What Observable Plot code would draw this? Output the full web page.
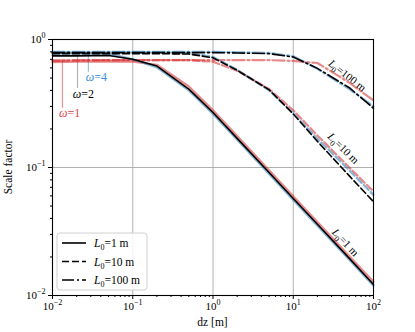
<!DOCTYPE html>
<html><head><meta charset="utf-8">
<script src="https://cdn.jsdelivr.net/npm/d3@7"></script>
<script src="https://cdn.jsdelivr.net/npm/@observablehq/plot@0.6"></script>
<style>body{margin:0;background:#fff} svg{font-family:"Liberation Serif",serif}</style>
</head><body><div id="chart"></div>
<script>
// ---- data ----
const dz = [0.01,0.02,0.05,0.1,0.2,0.5,1,2,5,10,20,50,100];
// omega = 1 (red)
const w1_L1   = [0.665,0.67,0.675,0.67,0.635,0.43,0.28,0.176,0.095,0.0595,0.0375,0.0203,0.0128];
const w1_L10  = [0.685,0.685,0.69,0.69,0.69,0.69,0.67,0.57,0.41,0.28,0.178,0.1,0.065];
const w1_L100 = [0.685,0.69,0.69,0.69,0.69,0.69,0.69,0.69,0.69,0.68,0.655,0.46,0.334];
// omega = 2 (black)
const w2_L1   = [0.745,0.745,0.75,0.70,0.62,0.41,0.269,0.169,0.0915,0.0573,0.036,0.0195,0.0122];
const w2_L10  = [0.775,0.775,0.775,0.775,0.775,0.77,0.72,0.575,0.405,0.262,0.16,0.086,0.054];
const w2_L100 = [0.79,0.79,0.79,0.79,0.79,0.79,0.79,0.785,0.775,0.73,0.595,0.42,0.29];
// omega = 4 (blue)
const w4_L1   = [0.78,0.78,0.775,0.70,0.605,0.40,0.262,0.165,0.089,0.0558,0.035,0.019,0.0119];
const w4_L10  = [0.79,0.79,0.79,0.79,0.79,0.785,0.73,0.58,0.40,0.265,0.168,0.095,0.061];
const w4_L100 = [0.80,0.80,0.80,0.80,0.80,0.80,0.80,0.795,0.785,0.74,0.59,0.41,0.30];

const majorX = [0.01,0.1,1,10,100];
const majorY = [0.01,0.1,1];
const legendLabels = ["L_0=1 m","L_0=10 m","L_0=100 m"];

// annotation anchors (data coordinates)
const curveLabels = [
  {x: 47, y: 0.523, text: "L_0=100 m", angle: 38},
  {x: 42, y: 0.141, text: "L_0=10 m", angle: 45},
  {x: 44.6, y: 0.026, text: "L_0=1 m", angle: 47}
];
const omegaLabels = [
  {x: 0.0353, y: 0.505, text: "ω=4", color: "#3d8fd0", lx: 0.028, y1: 0.78, y2: 0.555, lc: "rgba(31,119,180,0.45)"},
  {x: 0.0243, y: 0.372, text: "ω=2", color: "#000", lx: 0.0205, y1: 0.745, y2: 0.415, lc: "rgba(0,0,0,0.3)"},
  {x: 0.0163, y: 0.264, text: "ω=1", color: "#e0444a", lx: 0.0133, y1: 0.67, y2: 0.29, lc: "rgba(214,39,40,0.5)"}
];

const series = [
  {omega:1, L0:1, v:w1_L1}, {omega:1, L0:10, v:w1_L10}, {omega:1, L0:100, v:w1_L100},
  {omega:4, L0:1, v:w4_L1}, {omega:4, L0:10, v:w4_L10}, {omega:4, L0:100, v:w4_L100},
  {omega:2, L0:1, v:w2_L1}, {omega:2, L0:10, v:w2_L10}, {omega:2, L0:100, v:w2_L100}
];

const colors = {1: "#d62728", 2: "#000000", 4: "#1f77b4"};
const dashes = {1: null, 10: "7,3", 100: "12,3,2,3"};

const W = 415, H = 332, mL = 52, mR = 42, mT = 39, mB = 37;

const lineMarks = series.map(s => {
  const rows = dz.map((d, i) => ({dz: d, val: s.v[i]}));
  const opts = {x: "dz", y: "val", stroke: colors[s.omega],
    strokeWidth: s.omega === 2 ? 1.6 : 2.2,
    strokeOpacity: s.omega === 2 ? 1 : 0.55};
  if (dashes[s.L0]) opts.strokeDasharray = dashes[s.L0];
  return Plot.line(rows, opts);
});

const minor = (lo, hi) => d3.range(lo, hi).flatMap(e => d3.range(2, 10).map(m => m * 10 ** e));

const fmt = v => "10^" + Math.round(Math.log10(v));

const svg = Plot.plot({
  width: W, height: H,
  marginLeft: mL, marginRight: mR, marginTop: mT, marginBottom: mB,
  x: {type: "log", domain: [0.01, 100]},
  y: {type: "log", domain: [0.01, 1]},
  color: {type: "identity"},
  style: {fontFamily: "Liberation Serif", fontSize: "11px", background: "white", color: "black"},
  marks: [
    Plot.gridX({ticks: majorX, stroke: "#b0b0b0", strokeOpacity: 1, strokeWidth: 1}),
    Plot.gridY({ticks: majorY, stroke: "#b0b0b0", strokeOpacity: 1, strokeWidth: 1}),
    Plot.ruleX(omegaLabels, {x: "lx", y1: "y1", y2: "y2", stroke: "lc", strokeWidth: 1.2}),
    ...lineMarks,
    Plot.text(omegaLabels, {x: "x", y: "y", text: "text", fill: "color", fontSize: 12}),
    Plot.text(curveLabels, {x: "x", y: "y", text: "text", rotate: "angle", fill: "black", fontSize: 11}),
    Plot.frame({stroke: "black", strokeWidth: 1.1}),
    Plot.axisX({ticks: majorX, tickSize: 4, tickPadding: 3, tickFormat: fmt, label: null, fontSize: 11}),
    Plot.axisX({ticks: minor(-2, 2), tickSize: 2, tickFormat: () => "", label: null}),
    Plot.axisY({ticks: majorY, tickSize: 4, tickPadding: 3, tickFormat: fmt, label: null, fontSize: 11}),
    Plot.axisY({ticks: minor(-2, 0), tickSize: 2, tickFormat: () => "", label: null})
  ]
});

const NS = "http://www.w3.org/2000/svg";
function setRich(el, s) {
  el.textContent = "";
  const add = (t, attrs = {}) => {
    const ts = document.createElementNS(NS, "tspan");
    ts.textContent = t;
    for (const k in attrs) ts.setAttribute(k, attrs[k]);
    el.appendChild(ts);
  };
  let m;
  if ((m = s.match(/^(\d+)\^(.+)$/))) {
    add(m[1]);
    add(m[2].replace("-", "\u2212"), {dy: "-5", "font-size": "8"});
  } else if ((m = s.match(/^L_0(.*)$/))) {
    add("L", {"font-style": "italic"});
    add("0", {dy: "3", "font-size": "8"});
    add(m[1], {dy: "-3"});
  } else if ((m = s.match(/^ω(.*)$/))) {
    add("ω", {"font-style": "italic"});
    add(m[1]);
  } else {
    el.textContent = s;
  }
}
svg.querySelectorAll("text").forEach(t => {
  const s = t.textContent;
  if (/[\^_ω]/.test(s)) setRich(t, s);
});

const g = d3.select(svg);
// axis labels
g.append("text").attr("x", mL + (W - mL - mR) / 2).attr("y", H - 6)
  .attr("text-anchor", "middle").attr("font-size", 11.5).attr("fill", "black").text("dz [m]");
g.append("text").attr("transform", `translate(12,${mT + (H - mT - mB) / 2}) rotate(-90)`)
  .attr("text-anchor", "middle").attr("font-size", 11.5).attr("fill", "black").text("Scale factor");

// legend
const lg = g.append("g").attr("transform", `translate(${mL + 5},${H - mB - 62})`);
lg.append("rect").attr("width", 90).attr("height", 57).attr("rx", 3)
  .attr("fill", "white").attr("fill-opacity", 0.85).attr("stroke", "#d0d0d0");
legendLabels.forEach((lab, i) => {
  const yy = 10 + i * 18.5;
  const ln = lg.append("line").attr("x1", 5).attr("x2", 29).attr("y1", yy).attr("y2", yy)
    .attr("stroke", "black").attr("stroke-width", 1.6);
  const d = dashes[[1, 10, 100][i]];
  if (d) ln.attr("stroke-dasharray", d);
  const t = lg.append("text").attr("x", 37).attr("y", yy).attr("dy", "0.35em")
    .attr("text-anchor", "start").attr("font-size", 11.5).attr("fill", "black");
  setRich(t.node(), lab);
});

document.getElementById("chart").appendChild(svg);
</script>
</body></html>
